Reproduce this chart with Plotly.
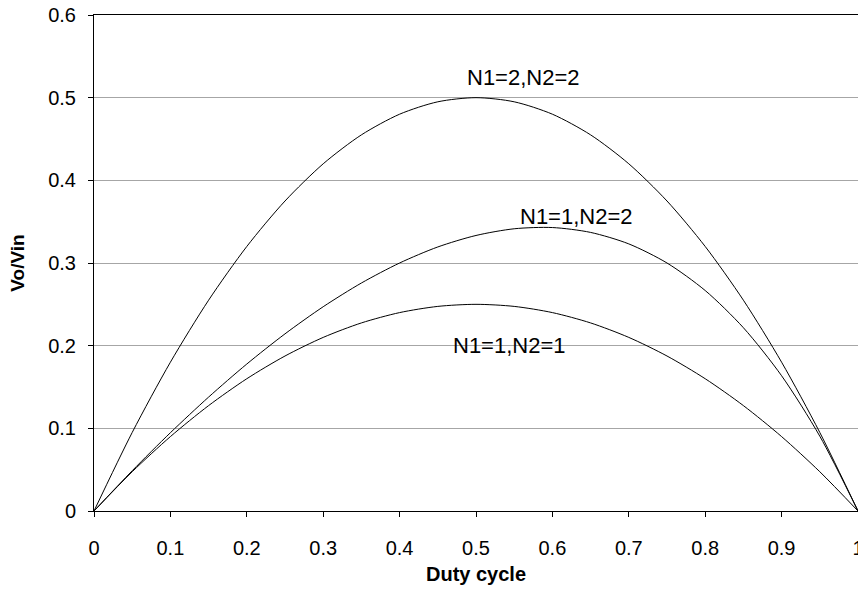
import plotly.graph_objects as go

duty = [0, 0.05, 0.1, 0.15, 0.2, 0.25, 0.3, 0.35, 0.4, 0.45, 0.5,
        0.55, 0.6, 0.65, 0.7, 0.75, 0.8, 0.85, 0.9, 0.95, 1.0]
n11 = [0, 0.0475, 0.09, 0.1275, 0.16, 0.1875, 0.21, 0.2275, 0.24, 0.2475, 0.25,
       0.2475, 0.24, 0.2275, 0.21, 0.1875, 0.16, 0.1275, 0.09, 0.0475, 0]
n22 = [0, 0.095, 0.18, 0.255, 0.32, 0.375, 0.42, 0.455, 0.48, 0.495, 0.5,
       0.495, 0.48, 0.455, 0.42, 0.375, 0.32, 0.255, 0.18, 0.095, 0]
n12 = [0, 0.0487, 0.0947, 0.1378, 0.1778, 0.2143, 0.2471, 0.2758, 0.30, 0.3194, 0.3333,
       0.3414, 0.3429, 0.3370, 0.3231, 0.30, 0.2667, 0.2217, 0.1636, 0.0905, 0]
names = ["N1=1,N2=1", "N1=2,N2=2", "N1=1,N2=2"]
x_ticks = [0, 0.1, 0.2, 0.3, 0.4, 0.5, 0.6, 0.7, 0.8, 0.9, 1.0]
x_ticktext = ["0", "0.1", "0.2", "0.3", "0.4", "0.5", "0.6", "0.7", "0.8", "0.9", "1"]
y_ticks = [0, 0.1, 0.2, 0.3, 0.4, 0.5, 0.6]
y_ticktext = ["0", "0.1", "0.2", "0.3", "0.4", "0.5", "0.6"]

# label anchor positions (data coords)
label_x = [0.544, 0.562, 0.631]
label_y = [0.200, 0.524, 0.356]

fig = go.Figure()
for name, ys in zip(names, [n11, n22, n12]):
    fig.add_trace(go.Scatter(x=duty, y=ys, mode="lines", name=name,
                             line=dict(color="black", width=1, shape="spline", smoothing=0.8),
                             showlegend=False, hoverinfo="skip"))

for name, lx, ly in zip(names, label_x, label_y):
    fig.add_annotation(x=lx, y=ly, text=name, showarrow=False,
                       font=dict(size=22, color="black"), xanchor="center", yanchor="middle")

fig.update_layout(
    width=858, height=594,
    margin=dict(l=94, r=0, t=15, b=83, autoexpand=False),
    paper_bgcolor="white", plot_bgcolor="white",
    font=dict(family="Liberation Sans, Arial, sans-serif", size=20, color="black"),
    xaxis=dict(range=[0, 1.0], tickvals=x_ticks, ticktext=x_ticktext,
               showgrid=False, zeroline=False, showline=True, linecolor="black", linewidth=1,
               mirror=True, ticks="outside", ticklen=5, tickcolor="black",
               ticklabelstandoff=14, ticklabeloverflow="allow", automargin=False,
               title=dict(text="<b>Duty cycle</b>", font=dict(size=20), standoff=8)),
    yaxis=dict(range=[0, 0.6], tickvals=y_ticks, ticktext=y_ticktext,
               showgrid=True, gridcolor="#a6a6a6", gridwidth=1, zeroline=False,
               showline=True, linecolor="black", linewidth=1,
               ticks="outside", ticklen=5, tickcolor="black",
               ticklabelstandoff=8, automargin=False,
               title=dict(text="<b>Vo/Vin</b>", font=dict(size=19), standoff=18)),
)

fig.write_html("out.html", config={"displayModeBar": False},
               post_script="document.body.style.margin='0';document.body.style.overflow='hidden';")
